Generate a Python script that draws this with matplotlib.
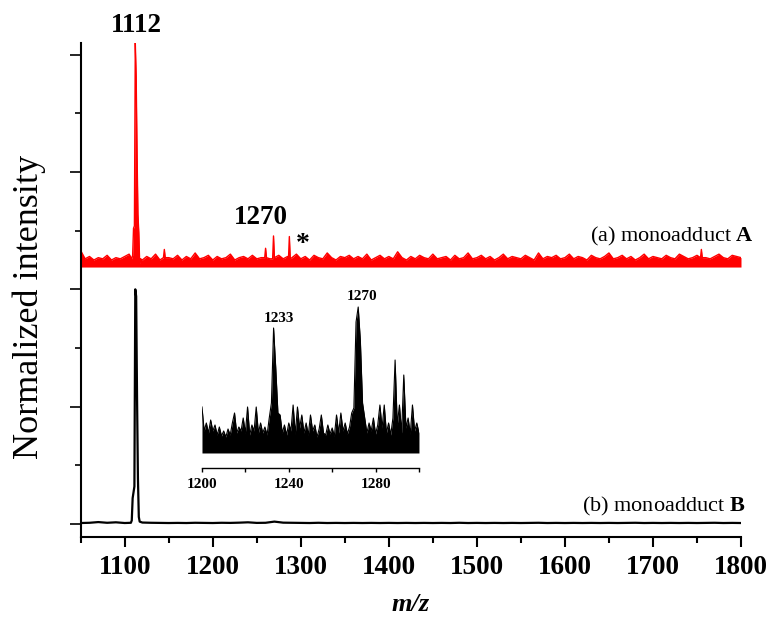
import numpy as np
import matplotlib
matplotlib.use("Agg")
import matplotlib.pyplot as plt
from matplotlib.ticker import MultipleLocator

plt.rcParams['font.family'] = ['Liberation Serif', 'DejaVu Serif']
plt.rcParams['mathtext.fontset'] = 'custom'
plt.rcParams['mathtext.rm'] = 'Liberation Serif'
plt.rcParams['mathtext.bf'] = 'Liberation Serif:bold'

# --- 数据 ---
# (a) 红色谱线: 基线 + 噪声 (单位 0.01, 步长 5) + 峰
red_floor = 2.19
red_base = 2.21
red_noise_x = np.arange(1050, 1801, 5)
red_noise = [12, 5, 7, 4, 6, 5, 8, 4, 6, 5,
             7, 9, 5, 6, 4, 7, 5, 9, 4, 6,
             6, 5, 8, 4, 7, 5, 10, 5, 6, 8,
             4, 7, 5, 6, 9, 4, 6, 7, 5, 8,
             5, 6, 6, 5, 6, 8, 5, 7, 6, 9,
             5, 7, 4, 8, 6, 5, 10, 6, 4, 7,
             6, 8, 5, 7, 5, 9, 4, 6, 8, 5,
             7, 5, 11, 6, 4, 7, 5, 8, 6, 5,
             9, 5, 6, 7, 4, 8, 5, 6, 10, 5,
             6, 8, 5, 7, 4, 6, 9, 5, 7, 6,
             5, 8, 6, 4, 10, 5, 7, 6, 8, 5,
             6, 9, 5, 7, 6, 4, 8, 6, 5, 7,
             10, 5, 6, 8, 5, 7, 4, 6, 9, 5,
             7, 6, 5, 8, 6, 5, 9, 7, 5, 6,
             8, 6, 6, 5, 7, 9, 6, 5, 8, 7,
             6]
red_peak_x = [1108, 1109, 1110, 1111, 1112, 1113, 1114, 1115, 1116, 1117, 1118,
              1144, 1145, 1146,
              1259, 1260, 1261,
              1268, 1269, 1286, 1287, 1288,
              1754, 1755, 1756]
red_peak_y = [0.05, 0.08, 0.31, 0.33, 1.89, 1.60, 0.95, 0.43, 0.27, 0.01, 0.05,
              0.06, 0.13, 0.06,
              0.06, 0.14, 0.06,
              0.05, 0.245, 0.05, 0.24, 0.05,
              0.06, 0.13, 0.06]

# (b) 黑色谱线: 噪声 (单位 0.001, 步长 10) + 峰
black_noise_x = np.arange(1050, 1801, 10)
black_noise = [8, 10, 16, 10, 14, 8, 0, 12, 10, 9,
               8, 9, 8, 10, 9, 8, 10, 9, 11, 14,
               9, 10, 20, 11, 10, 9, 8, 10, 8, 9,
               8, 9, 8, 9, 8, 9, 8, 9, 8, 9,
               8, 9, 8, 10, 8, 9, 8, 9, 8, 9,
               8, 9, 10, 8, 9, 8, 9, 8, 9, 8,
               9, 8, 9, 10, 8, 9, 8, 9, 8, 9,
               8, 9, 10, 8, 9, 8]
black_peak_x = [1107, 1108, 1109, 1110, 1111, 1112, 1113, 1114, 1115, 1116, 1117]
black_peak_y = [0.01, 0.03, 0.22, 0.27, 0.32, 2.00, 1.94, 1.08, 0.39, 0.06, 0.02]

# 插图: 1200-1300 放大 (任意单位)
inset_x = np.arange(1200, 1301, 1)
inset_y = [46, 22, 30, 20, 33, 22, 28, 18, 26, 17,
           22, 16, 24, 18, 30, 40, 20, 26, 22, 35,
           20, 46, 18, 28, 22, 46, 20, 30, 20, 26,
           18, 35, 50, 125, 85, 40, 38, 20, 28, 18,
           30, 22, 48, 19, 46, 25, 38, 20, 30, 18,
           38, 22, 28, 16, 24, 38, 20, 18, 28, 19,
           25, 17, 38, 20, 40, 22, 30, 19, 26, 40,
           45, 131, 146, 112, 50, 35, 20, 30, 22, 35,
           19, 28, 48, 25, 48, 20, 30, 18, 35, 93,
           28, 48, 20, 78, 25, 35, 19, 48, 22, 30,
           20]


def merge(nx, ny, px, py, lo, hi):
    nx = np.asarray(nx, float)
    ny = np.asarray(ny, float)
    keep = (nx < lo) | (nx > hi)
    keep &= ~np.isin(nx, px)
    x = np.concatenate([nx[keep], px])
    y = np.concatenate([ny[keep], py])
    order = np.argsort(x)
    return x[order], y[order]


rx, ry = merge(red_noise_x, np.array(red_noise) / 100.0, red_peak_x, red_peak_y, 1107, 1119)
ry = ry + red_base
bx, by = merge(black_noise_x, np.array(black_noise) / 1000.0, black_peak_x, black_peak_y, 1106, 1118)

# --- 绘图 ---
fig = plt.figure(figsize=(7.73, 6.21), dpi=100)
ax = fig.add_axes([0.1044, 0.1353, 0.8542, 0.7955])

ax.fill_between(rx, red_floor, ry, color='red', lw=0)
ax.plot(rx, ry, color='red', lw=1.0)
ax.plot(bx, by, color='black', lw=1.6)

ax.set_xlim(1050, 1800)
ax.set_ylim(-0.111, 4.10)
for s in ['top', 'right']:
    ax.spines[s].set_visible(False)
for s in ['left', 'bottom']:
    ax.spines[s].set_linewidth(1.5)

ax.xaxis.set_major_locator(MultipleLocator(100))
ax.xaxis.set_minor_locator(MultipleLocator(50))
ax.yaxis.set_major_locator(MultipleLocator(1))
ax.yaxis.set_minor_locator(MultipleLocator(0.5))
ax.tick_params(axis='x', which='major', length=7, width=1.5, pad=6, labelsize=19.5)
ax.tick_params(axis='x', which='minor', length=4, width=1.5)
ax.tick_params(axis='y', which='major', length=8, width=1.2, labelleft=False)
ax.tick_params(axis='y', which='minor', length=4, width=1.2)
for lab in ax.get_xticklabels():
    lab.set_fontweight('bold')

ax.set_xlabel('m/z', fontsize=19, style='italic', fontweight='bold', labelpad=9)
fig.text(0.0375, 0.5056, 'Normalized intensity', rotation=90, fontsize=26,
         ha='center', va='center')

# 标注
ax.text(1113, 4.25, '1112', fontsize=19.5, fontweight='bold', ha='center', va='center', clip_on=False)
ax.text(1255, 2.61, '1270', fontsize=19.5, fontweight='bold', ha='center', va='center')
ax.text(1302, 2.38, '*', fontsize=20, fontweight='bold', ha='center', va='center')
ax.text(1814, 2.45, '(a) monoadduct $\\mathbf{A}$', fontsize=16, ha='right', va='center', clip_on=False)
ax.text(1805, 0.145, '(b) monoadduct $\\mathbf{B}$', fontsize=16, ha='right', va='center', clip_on=False)

# 插图
ins = fig.add_axes([0.2613, 0.2464, 0.2807, 0.2705])
ins.fill_between(inset_x, 0, inset_y, color='black', lw=0)
ins.plot(inset_x, inset_y, color='black', lw=0.8)
ins.set_xlim(1200, 1300)
ins.set_ylim(-15, 153)
ins.patch.set_alpha(0)
for s in ['top', 'right', 'left']:
    ins.spines[s].set_visible(False)
ins.spines['bottom'].set_linewidth(1.0)
ins.set_yticks([])
ins.xaxis.set_major_locator(MultipleLocator(40))
ins.xaxis.set_minor_locator(MultipleLocator(20))
ins.tick_params(axis='x', which='both', length=3, width=1.0, pad=4, labelsize=11)
for lab in ins.get_xticklabels():
    lab.set_fontweight('bold')
ins.text(1235.4, 135, '1233', fontsize=11, fontweight='bold', ha='center', va='center')
ins.text(1273.6, 157, '1270', fontsize=11, fontweight='bold', ha='center', va='center', clip_on=False)

fig.savefig('out.png', dpi=100)
